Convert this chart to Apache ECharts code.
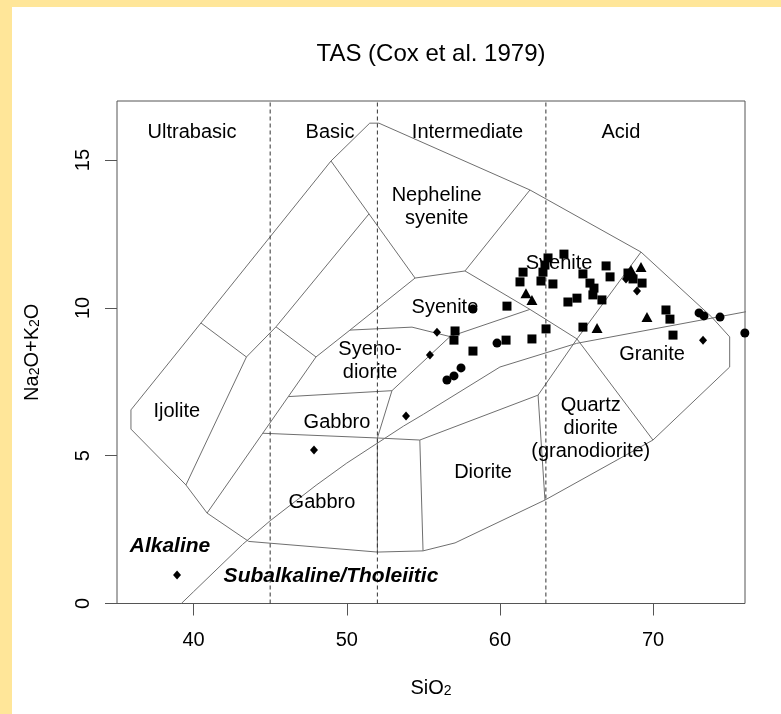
<!DOCTYPE html>
<html>
<head>
<meta charset="utf-8">
<title>TAS (Cox et al. 1979)</title>
<script src="https://cdn.jsdelivr.net/npm/echarts@6/dist/echarts.min.js"></script>
<style>
  html, body { margin: 0; padding: 0; background: #FFE699; width: 781px; height: 714px; overflow: hidden; }
  #chart { position: absolute; left: 12px; top: 7px; width: 769px; height: 707px; background: #ffffff; }
</style>
</head>
<body>
<div id="chart"></div>
<script>
// ---- axes ----
const xRange = [35, 76];
const yRange = [0, 17];
const xTicks = [40, 50, 60, 70];
const yTicks = [0, 5, 10, 15];
const silicaDivisions = [45, 52, 63];

// ---- field boundaries, [SiO2, Na2O+K2O] ----
const outline = [[51.5, 16.25], [52.1, 16.25], [61.96, 13.99], [69.21, 11.89], [73.83, 9.69], [75.0, 9.02],
  [75.0, 8.0], [69.99, 5.53], [62.94, 3.5], [57.07, 2.05], [54.98, 1.78], [52.0, 1.74], [43.6, 2.1],
  [40.88, 3.06], [39.5, 4.01], [35.91, 5.9], [35.91, 6.55], [40.48, 9.49], [48.97, 14.97], [51.5, 16.25]];
const nephelineBase = [[48.97, 14.97], [54.46, 11.01], [57.72, 11.25], [61.96, 13.99]];
const syeniteDivide = [[57.72, 11.25], [61.96, 9.95], [65.03, 8.95], [69.99, 5.53]];
const graniteDivide = [[69.21, 11.89], [65.03, 8.95], [62.49, 7.05], [62.94, 3.5]];
const dioriteTop = [[62.49, 7.05], [54.77, 5.53], [52.0, 5.6]];
const dioriteLeft = [[54.77, 5.53], [54.98, 1.78]];
const gabbroDivide = [[52.0, 5.6], [52.0, 1.74]];
const gabbroUpperBase = [[44.52, 5.76], [52.0, 5.6]];
const gabbroUpperTop = [[46.2, 7.0], [52.95, 7.2]];
const syenodioriteRight = [[52.0, 5.6], [52.95, 7.2], [56.74, 9.03]];
const syenodioriteTop = [[50.21, 9.25], [54.26, 9.35], [56.74, 9.03], [61.96, 9.95]];
const syeniteLeft = [[54.46, 11.01], [50.21, 9.25], [47.99, 8.34], [40.88, 3.06]];
const basicStrip = [[51.45, 13.18], [45.38, 9.36], [43.45, 8.34], [39.5, 4.01]];
const ijoliteTop = [[40.48, 9.49], [43.45, 8.34]];
const stripStep = [[45.38, 9.36], [47.99, 8.34]];

// alkaline / subalkaline divide (Irvine & Baragar)
const divideSiO2 = [39.2, 40, 43.2, 45, 48, 50, 53.7, 55, 60, 65, 77.4];
const divideAlk = [0, 0.4, 2, 2.8, 4, 4.75, 6, 6.4, 8, 8.8, 10];

// ---- samples, [SiO2, Na2O+K2O] ----
const squares = [[64.18, 11.82], [63.14, 11.69], [62.94, 11.45], [61.51, 11.21], [61.31, 10.88], [62.81, 11.21],
  [62.68, 10.91], [63.46, 10.81], [65.42, 11.15], [65.88, 10.84], [66.14, 10.67], [66.07, 10.44], [66.66, 10.27],
  [66.93, 11.42], [67.19, 11.05], [64.44, 10.2], [65.03, 10.33], [60.46, 10.06], [65.42, 9.35], [63.01, 9.29],
  [62.09, 8.95], [60.4, 8.91], [58.24, 8.54], [57.07, 9.22], [57.0, 8.91], [70.84, 9.93], [71.1, 9.62],
  [71.3, 9.08], [69.28, 10.84], [68.36, 11.18], [68.69, 10.98]];
const circles = [[58.24, 9.96], [59.81, 8.81], [57.46, 7.97], [57.0, 7.7], [56.54, 7.56], [73.0, 9.83],
  [73.32, 9.73], [74.37, 9.69], [75.99, 9.15], [68.49, 11.08]];
const diamonds = [[55.89, 9.18], [55.43, 8.41], [53.87, 6.34], [47.86, 5.19], [38.92, 0.96], [68.95, 10.57],
  [68.23, 10.98], [73.26, 8.91]];
const triangles = [[61.7, 10.5], [62.09, 10.27], [66.34, 9.32], [69.6, 9.69], [69.21, 11.38], [68.56, 11.28]];

// ---- field names ----
const silicaClasses = [
  { text: 'Ultrabasic', at: [39.9, 15.95] },
  { text: 'Basic', at: [48.91, 15.95] },
  { text: 'Intermediate', at: [57.88, 15.95] },
  { text: 'Acid', at: [67.9, 15.95] }
];
const fieldNames = [
  { text: 'Nepheline\nsyenite', at: [55.87, 13.42] },
  { text: 'Syenite', at: [63.86, 11.51] },
  { text: 'Syenite', at: [56.41, 10.03] },
  { text: 'Syeno-\ndiorite', at: [51.52, 8.21] },
  { text: 'Gabbro', at: [49.36, 6.12] },
  { text: 'Gabbro', at: [48.38, 3.42] },
  { text: 'Ijolite', at: [38.9, 6.51] },
  { text: 'Diorite', at: [58.9, 4.42] },
  { text: 'Quartz\ndiorite\n(granodiorite)', at: [65.93, 5.91] },
  { text: 'Granite', at: [69.93, 8.43] }
];
const seriesNames = [
  { text: 'Alkaline', at: [38.46, 1.95] },
  { text: 'Subalkaline/Tholeiitic', at: [48.97, 0.91] }
];

const FONT = "'Liberation Sans', Arial, Helvetica, sans-serif";
const INK = '#000000';
const FIELD_LINE = '#6f6f6f';

function boundary(pts) {
  return {
    type: 'line', data: pts, symbol: 'none', silent: true, z: 2,
    lineStyle: { color: FIELD_LINE, width: 1 }
  };
}

function marks(pts, symbol, size) {
  return {
    type: 'scatter', data: pts, symbol: symbol, symbolSize: size, z: 5, silent: true,
    itemStyle: { color: '#000000', opacity: 1 }
  };
}

function textLayer(items, style) {
  return {
    type: 'scatter', symbolSize: 0, z: 4, silent: true,
    itemStyle: { opacity: 1 },
    data: items.map(d => ({ value: d.at, name: d.text })),
    label: Object.assign({
      show: true, position: 'inside', formatter: p => p.name, opacity: 1,
      color: INK, fontFamily: FONT, fontSize: 20, lineHeight: 23, align: 'center'
    }, style)
  };
}

const subRich = {
  a: { fontFamily: FONT, fontSize: 20, color: INK, lineHeight: 22, verticalAlign: 'bottom' },
  s: { fontFamily: FONT, fontSize: 14, color: INK, lineHeight: 10, verticalAlign: 'bottom' }
};

const series = [];
[outline, nephelineBase, syeniteDivide, graniteDivide, dioriteTop, dioriteLeft, gabbroDivide,
  gabbroUpperBase, gabbroUpperTop, syenodioriteRight, syenodioriteTop, syeniteLeft, basicStrip,
  ijoliteTop, stripStep].forEach(b => series.push(boundary(b)));
series.push(boundary(divideSiO2.map((x, i) => [x, divideAlk[i]])));

silicaDivisions.forEach(x => series.push({
  type: 'line', data: [[x, yRange[0]], [x, yRange[1]]], symbol: 'none', silent: true, z: 3,
  lineStyle: { color: '#333333', width: 1, type: [4, 3] }
}));

series.push(textLayer(silicaClasses, {}));
series.push(textLayer(fieldNames, {}));
series.push(textLayer(seriesNames, { fontWeight: 'bold', fontStyle: 'italic', fontSize: 21 }));

series.push(marks(squares, 'rect', 9));
series.push(marks(circles, 'circle', 9));
series.push(marks(diamonds, 'diamond', [8, 9]));
series.push(marks(triangles, 'triangle', [11, 10]));

const chart = echarts.init(document.getElementById('chart'), null, { renderer: 'canvas' });
chart.setOption({
  animation: false,
  backgroundColor: '#ffffff',
  title: {
    text: 'TAS (Cox et al. 1979)',
    left: 419, top: 35, textAlign: 'center', padding: 0,
    textStyle: { fontFamily: FONT, fontSize: 24, fontWeight: 'normal', color: INK }
  },
  grid: {
    left: 105, right: 36, top: 94, bottom: 110.5,
    show: true, borderColor: '#555555', borderWidth: 1, backgroundColor: 'transparent'
  },
  xAxis: {
    type: 'value', min: xRange[0], max: xRange[1],
    axisLine: { show: false },
    splitLine: { show: false },
    axisTick: { show: true, length: 12, customValues: xTicks, lineStyle: { color: '#555555' } },
    axisLabel: { customValues: xTicks, fontFamily: FONT, fontSize: 20, color: INK, margin: 27 },
    name: '{a|SiO}{s|2}', nameLocation: 'middle', nameGap: 73,
    nameTextStyle: { rich: subRich }
  },
  yAxis: {
    type: 'value', min: yRange[0], max: yRange[1],
    axisLine: { show: false },
    splitLine: { show: false },
    axisTick: { show: true, length: 12, customValues: yTicks, lineStyle: { color: '#555555' } },
    axisLabel: { customValues: yTicks, rotate: 90, fontFamily: FONT, fontSize: 20, color: INK, margin: 24 },
    name: '{a|Na}{s|2}{a|O+K}{s|2}{a|O}', nameLocation: 'middle', nameGap: 75, nameRotate: 90,
    nameTextStyle: { rich: subRich }
  },
  series: series
});
</script>
</body>
</html>
